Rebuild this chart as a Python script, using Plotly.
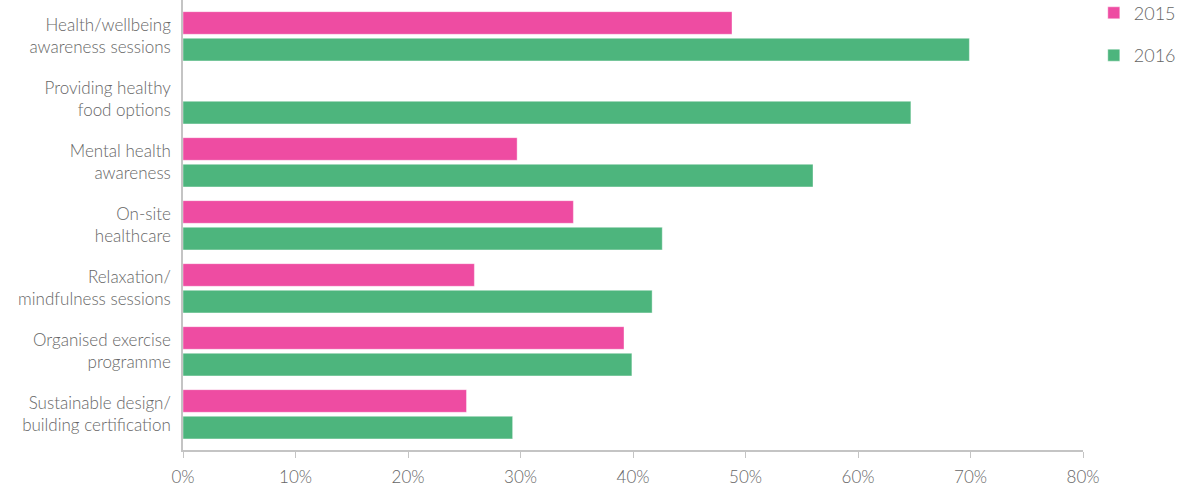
import plotly.graph_objects as go

categories = [
    "Health/wellbeing<br>awareness sessions",
    "Providing healthy<br>food options",
    "Mental health<br>awareness",
    "On-site<br>healthcare",
    "Relaxation/<br>mindfulness sessions",
    "Organised exercise<br>programme",
    "Sustainable design/<br>building certification",
]
values_2015 = [48.8, None, 29.7, 34.7, 25.9, 39.2, 25.2]
values_2016 = [69.9, 64.7, 56.0, 42.6, 41.7, 39.9, 29.3]
x_ticks = [0, 10, 20, 30, 40, 50, 60, 70, 80]

pink = "#ee4ca2"
green = "#4db57d"
text_grey = "#666666"
axis_grey = "#c4c4c4"

fig = go.Figure()
fig.add_trace(go.Bar(
    y=categories, x=values_2015, name="2015", orientation="h",
    marker=dict(color=pink, line=dict(color="rgba(255,255,255,0.4)", width=1)),
    legendgroup="a",
))
fig.add_trace(go.Bar(
    y=categories, x=values_2016, name="2016", orientation="h",
    marker=dict(color=green, line=dict(color="rgba(255,255,255,0.4)", width=1)),
    legendgroup="b",
))

fig.update_layout(
    width=1200,
    height=487,
    barmode="group",
    bargap=0.155,
    bargroupgap=0.15,
    plot_bgcolor="white",
    paper_bgcolor="white",
    font=dict(family="Lato", size=17, color=text_grey, weight=300),
    # keep the plot area fixed; the legend must not push the margins
    margin=dict(l=183, r=117, t=0, b=37, autoexpand=False),
    legend=dict(
        x=1.012, y=1.012, xanchor="left", yanchor="top",
        font=dict(size=18, color=text_grey, weight=300),
        tracegroupgap=16,
        itemwidth=30,
    ),
)

fig.update_xaxes(
    range=[0, 80],
    tickvals=x_ticks,
    ticktext=[f"{v}%" for v in x_ticks],
    showgrid=False,
    zeroline=False,
    showline=True,
    linecolor=axis_grey,
    linewidth=1.5,
    ticks="outside",
    ticklen=6,
    tickcolor=axis_grey,
    ticklabelstandoff=5,
    automargin=False,
)
fig.update_yaxes(
    categoryorder="array",
    categoryarray=categories,
    range=[6.567, -0.576],
    showgrid=False,
    showline=True,
    linecolor=axis_grey,
    linewidth=1.5,
    ticks="",
    ticklabelstandoff=7,
    automargin=False,
)

# drop the default page margin so the figure sits flush in the window
fig.write_html(
    "out.html",
    config={"displayModeBar": False},
    post_script="document.body.style.margin='0';",
)
